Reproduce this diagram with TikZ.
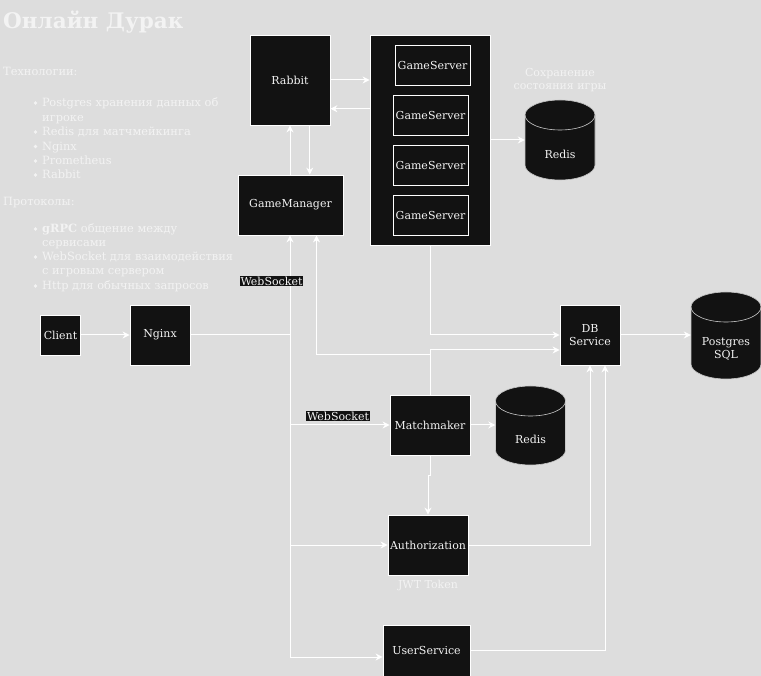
\documentclass[tikz,border=0pt]{standalone}
\usepackage{fontspec}
\setmainfont{DejaVu Serif}
\usetikzlibrary{positioning}
\usetikzlibrary{arrows.meta}
\definecolor{bggray}{RGB}{221,221,221}
\definecolor{boxblack}{RGB}{18,18,18}
\definecolor{softwhite}{RGB}{243,243,243}
\definecolor{rimgray}{RGB}{200,200,200}
\newcommand{\boxfont}{\fontsize{11}{13}\selectfont}
\tikzset{
        treenode/.style={align=center,inner sep=0pt},
        % Service boxes
        node_service/.style={treenode, rectangle, draw=white, fill=boxblack, text=softwhite, line width=0.8pt, font=\boxfont},
        % Game servers in the container
        node_server/.style={node_service, line width=0.6pt, minimum width=75pt, minimum height=40pt},
        % Storages (text sits in the body of the cylinder)
        node_store/.style={treenode, text=softwhite, minimum width=70pt, font=\boxfont},
        store_body/.style={fill=boxblack, draw=rimgray, line width=0.6pt},
        % Protocol tags
        node_tag/.style={fill=boxblack, text=softwhite, inner sep=1pt, font=\boxfont},
        % Plain texts
        node_text/.style={inner sep=0pt, text=softwhite, font=\fontsize{11.4}{14}\selectfont},
        % Connectors
        link/.style={draw=white, line width=1pt, -{Stealth[length=7pt,width=7pt]}}
}

\begin{document}
\begin{tikzpicture}[x=1pt, y=-1pt]
    \fill[bggray] (0,0) rectangle (761,676);
    \useasboundingbox (0,0) rectangle (761,676);

    % Left column
    \node[node_text, anchor=base west, font=\fontsize{21.5}{24}\selectfont\bfseries] (title) at (3,28.5) {Онлайн Дурак};
    \node[node_text, anchor=base west] (tech) at (3,76) {Технологии:};
    \foreach \y/\t [count=\i] in {103/Postgres хранения данных об, 117.5/игроке, 132/Redis для матчмейкинга,
                                146.5/Nginx, 161/Prometheus, 175/Rabbit}
        \node[node_text, anchor=base west] (tech\i) at (42,\y+4) {\t};
    \foreach \y in {103,132,146.5,161,175}
        \fill[softwhite] (35.5,\y) circle (1.8pt);
    \node[node_text, anchor=base west] (proto) at (3,206) {Протоколы:};
    \foreach \y/\t [count=\i] in {229/\textbf{gRPC} общение между, 243/сервисами, 257/WebSocket для взаимодействия,
                                271/с игровым сервером, 286/Http для обычных запросов}
        \node[node_text, anchor=base west] (proto\i) at (42,\y+4) {\t};
    \foreach \y in {229,257,286}
        \fill[softwhite] (35.5,\y) circle (1.8pt);

    % Cylinders: centre x / top y / height
    \foreach \cx/\ty/\h in {560/100/80, 530.5/386/79, 726/292/87} {
        \path[store_body] (\cx-35,\ty+15) -- (\cx-35,\ty+\h-15) arc (180:0:35 and 15)
            -- (\cx+35,\ty+15) arc (0:-180:35 and 15) -- cycle;
        \draw[rimgray, line width=0.6pt] (\cx-35,\ty+15) arc (180:0:35 and 15);
    }

    % Services
    \node[node_service, minimum width=40pt, minimum height=40pt] (client) at (60.5,335) {Client};
    \node[node_service, minimum width=60pt, minimum height=60pt] (nginx) at (160,335) {Nginx};
    \node[node_service, minimum width=80pt, minimum height=90pt] (rabbit) at (290,80) {Rabbit};
    \node[node_service, minimum width=105pt, minimum height=60pt] (gm) at (290.5,205) {GameManager};
    \node[node_service, minimum width=120pt, minimum height=210pt] (servers) at (430,140) {};
    \node[node_server] (gs1) at (432.5,65) {GameServer};
    \node[node_server] (gs2) at (430.5,115) {GameServer};
    \node[node_server] (gs3) at (430.5,165) {GameServer};
    \node[node_server] (gs4) at (430.5,215) {GameServer};
    \node[node_store, minimum height=50pt] (redis1) at (560,154) {Redis};
    \node[node_text, align=center, font=\boxfont] (save) at (560,80) {Сохранение\\состояния игры};
    \node[node_service, minimum width=60pt, minimum height=60pt] (db) at (590,335) {DB\\Service};
    \node[node_store, minimum height=59pt] (pg) at (726,349) {Postgres\\SQL};
    \node[node_service, minimum width=80pt, minimum height=60pt] (mm) at (430,425) {Matchmaker};
    \node[node_store, minimum height=49pt] (redis2) at (530.5,439) {Redis};
    \node[node_service, minimum width=80pt, minimum height=60pt] (auth) at (428,545) {Authorization};
    \node[node_text, font=\boxfont, below=5pt of auth] (jwt) {JWT Token};
    \node[node_service, minimum width=87pt, minimum height=51pt] (us) at (426.5,650.5) {UserService};
    \coordinate (hub) at (290,335);

    % Connectors
    \draw[link] (client) -- (nginx);
    \draw[link] (nginx.east) -- (hub) -- (hub |- gm.south);
    \draw[link] (hub) |- (mm.west);
    \draw[link] (hub) |- (auth.west);
    \draw[link] (hub) |- ([yshift=-6.5pt]us.west);
    \draw[link] (rabbit.east) -- (rabbit.east -| servers.west);
    \draw[link] ([yshift=-28.7pt]rabbit.east -| servers.west) -- ([yshift=-28.7pt]rabbit.east);
    \draw[link] ([xshift=19.7pt]rabbit.south) -- ([xshift=19.7pt]rabbit.south |- gm.north);
    \draw[link] (gm.north -| rabbit.south) -- (rabbit.south);
    \draw[link] (servers.east) -- (servers.east -| redis1.west);
    \draw[link] (servers.south) |- (db.west);
    \draw[link] (mm.north) -- ++(0,-40) -| ([xshift=26pt]gm.south);
    \draw[link] (mm.north) |- ([yshift=-15pt]db.west);
    \draw[link] (mm.east) -- (mm.east -| redis2.west);
    \draw[link] (mm.south) -- ++(0,20) -| (auth.north);
    \draw[link] (auth.east) -| (db.south);
    \draw[link] (us.east) -| ([xshift=15pt]db.south);
    \draw[link] (db.east) -- (db.east -| pg.west);

    % Protocol tags
    \node[node_tag] (ws1) at (271.5,281) {WebSocket};
    \node[node_tag] (ws2) at (338,416) {WebSocket};
\end{tikzpicture}
\end{document}
